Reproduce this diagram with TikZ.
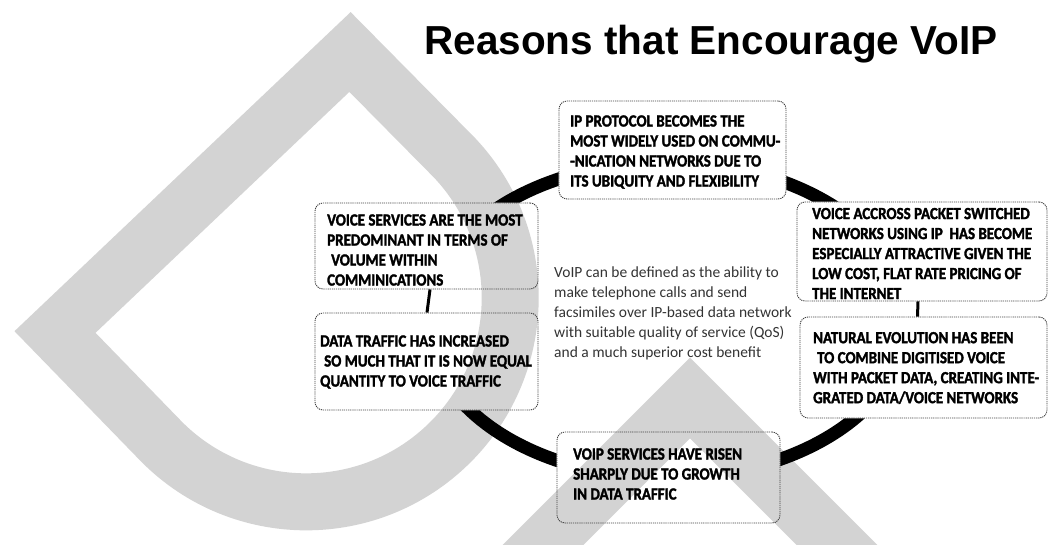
\documentclass[tikz,border=0pt]{standalone}
\usepackage{fontspec}
\setmainfont{Carlito}
\newfontfamily\titlefont{Liberation Sans}
\newfontfamily\boxfont[FakeStretch=0.88, FakeBold=1.8]{Carlito Bold}
\definecolor{wmgray}{RGB}{211,211,211}
\begin{document}
\begin{tikzpicture}[x=1pt,y=1pt,
  wm/.style={draw=wmgray, line width=57pt, line join=miter, miter limit=10},
  box/.style={draw=black!75, line width=0.9pt, dash pattern=on 1.2pt off 0.9pt, rounded corners=8pt, inner sep=0pt},
  boxtext/.style={align=left, font=\boxfont\fontsize{17}{20}\selectfont, inner sep=0pt, anchor=west},
  ring/.style={line width=13pt, draw=black},
  tickline/.style={line width=3pt, draw=black}]
\useasboundingbox (0,0) rectangle (1049,-544);
\clip (0,0) rectangle (1049,-544);
% watermark
\draw[wm] (350,-52) -- (55,-332) -- (158,-438) arc[start angle=223.4, end angle=403.4, radius=204pt] -- cycle;
\draw[wm] (490,-598) -- (690,-398) -- (890,-598);
% title
\node[font=\titlefont\bfseries\fontsize{40.5}{48}\selectfont, anchor=base, inner sep=0pt] (title) at (711,-54) {Reasons that Encourage VoIP};
% boxes
\node[box, minimum width=227pt, minimum height=98pt] (top) at (672.5,-150) {};
\node[box, minimum width=223pt, minimum height=86pt] (lt) at (426.5,-246) {};
\node[box, minimum width=223pt, minimum height=97pt] (lb) at (426.5,-361.5) {};
\node[box, minimum width=250pt, minimum height=99pt] (rt) at (922,-251.5) {};
\node[box, minimum width=247pt, minimum height=101pt] (rb) at (923.5,-367.5) {};
\node[box, minimum width=223pt, minimum height=91pt] (bot) at (668.5,-477.5) {};
% ring segments
\begin{scope}
\clip (0,0) rectangle (1049,-544)
  (top.south west) rectangle (top.north east)
  (lt.south west) rectangle (lt.north east)
  (lb.south west) rectangle (lb.north east)
  (rt.south west) rectangle (rt.north east)
  (rb.south west) rectangle (rb.north east)
  (bot.south west) rectangle (bot.north east);
\draw[ring] ([shift={(150:240pt and 158pt)}]667,-320) arc[start angle=150, end angle=100, x radius=240pt, y radius=158pt];
\draw[ring] ([shift={(80:240pt and 158pt)}]667,-320) arc[start angle=80, end angle=30, x radius=240pt, y radius=158pt];
\draw[ring] ([shift={(-30:240pt and 158pt)}]667,-320) arc[start angle=-30, end angle=-80, x radius=240pt, y radius=158pt];
\draw[ring] ([shift={(-100:240pt and 158pt)}]667,-320) arc[start angle=-100, end angle=-150, x radius=240pt, y radius=158pt];
\end{scope}
\draw[tickline] ([xshift=3.5pt]lt.south) -- ([xshift=0.5pt]lb.north);
\draw[tickline] ([xshift=-4pt]rt.south) -- ([xshift=-6pt]rb.north);
% texts
\node[boxtext] (toptext) at (570,-152) {IP PROTOCOL BECOMES THE\\MOST WIDELY USED ON COMMU-\\-NICATION NETWORKS DUE TO\\ITS UBIQUITY AND FLEXIBILITY};
\node[boxtext] (lttext) at (327,-250) {VOICE SERVICES ARE THE MOST\\PREDOMINANT IN TERMS OF\\\hspace*{4pt}VOLUME WITHIN\\COMMINICATIONS};
\node[boxtext] (lbtext) at (320,-362) {DATA TRAFFIC HAS INCREASED\\\hspace*{4pt}SO MUCH THAT IT IS NOW EQUAL\\QUANTITY TO VOICE TRAFFIC};
\node[boxtext] (rttext) at (812,-253.5) {VOICE ACCROSS PACKET SWITCHED\\NETWORKS USING IP\ \ HAS BECOME\\ESPECIALLY ATTRACTIVE GIVEN THE\\LOW COST, FLAT RATE PRICING OF\\THE INTERNET};
\node[boxtext] (rbtext) at (813,-368) {NATURAL EVOLUTION HAS BEEN\\\hspace*{4pt}TO COMBINE DIGITISED VOICE\\WITH PACKET DATA, CREATING INTE-\\GRATED DATA/VOICE NETWORKS};
\node[boxtext] (bottext) at (573,-474) {VOIP SERVICES HAVE RISEN\\SHARPLY DUE TO GROWTH\\IN DATA TRAFFIC};
\node[align=left, font=\fontsize{15.5}{20}\selectfont, text=black!80, inner sep=0pt, anchor=west] (centertext) at (554,-313) {VoIP can be defined as the ability to\\make telephone calls and send\\facsimiles over IP-based data network\\with suitable quality of service (QoS)\\and a much superior cost benefit};
\end{tikzpicture}
\end{document}
